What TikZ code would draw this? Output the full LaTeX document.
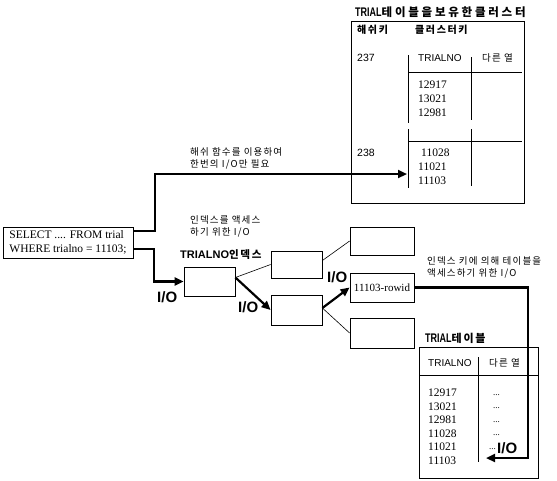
\documentclass[tikz,border=0pt]{standalone}
\usepackage{fontspec}
\usepackage{graphicx}
\usetikzlibrary{arrows.meta}
\setmainfont{Liberation Serif}
\newfontfamily\sansf{Liberation Sans}
\newfontfamily\krA[LetterSpace=12]{Noto Sans CJK KR}
\newfontfamily\krB[LetterSpace=24]{Noto Sans CJK KR}
\newfontfamily\krC[LetterSpace=16]{Noto Sans CJK KR}
\newcommand{\trialword}{\scalebox{0.72}[1]{\sansf\bfseries\fontsize{12.5}{12}\selectfont TRIAL}}
\tikzset{
  txt/.style={inner sep=0pt, anchor=west, align=left},
  krsmall/.style={txt, font=\krA\fontsize{9.5}{12}\selectfont},
  num/.style={txt, font=\fontsize{11.5}{13}\selectfont},
  sanslbl/.style={txt, font=\sansf\fontsize{10}{12}\selectfont},
  io/.style={txt, font=\sansf\bfseries\fontsize{15}{15}\selectfont},
  box/.style={draw, line width=0.8pt, inner sep=0pt},
  rule/.style={line width=0.8pt},
  thinline/.style={line width=0.6pt},
  thickarrow/.style={line width=2.2pt, -{Triangle[length=9pt,width=8pt]}},
}
\begin{document}
\begin{tikzpicture}[x=1pt,y=-1pt]
\useasboundingbox[fill=white] (0,0) rectangle (557,480);

% ---------------- cluster (top right) ----------------
\node[txt] (ctitle) at (355,12) {\trialword{\krB\bfseries\fontsize{11.5}{12}\selectfont 테이블을보유한클러스터}};
\node[box, minimum width=173pt, minimum height=182pt] (cluster) at (437.5,112) {};
\node[txt, font=\krC\bfseries\fontsize{10}{12}\selectfont] (hkey) at (357,30) {해쉬키};
\node[txt, font=\krC\bfseries\fontsize{10}{12}\selectfont] (ckey) at (415,30) {클러스터키};
\node[sanslbl, font=\sansf\fontsize{10.5}{12}\selectfont] (k237) at (357,58) {237};
\node[sanslbl] (ctrialno) at (418,58) {TRIALNO};
\node[krsmall] (cother) at (482,58) {다른 열};
\node[num] (c1a) at (418,85) {12917};
\node[num] (c1b) at (418,99) {13021};
\node[num] (c1c) at (418,113) {12981};
\node[sanslbl, font=\sansf\fontsize{10.5}{12}\selectfont] (k238) at (357,153) {238};
\node[num] (c2a) at (421,153) {11028};
\node[num] (c2b) at (418,167) {11021};
\node[num] (c2c) at (418,181) {11103};
\draw[rule] (408,55) -- (408,123);
\draw[rule] (408,129) -- (408,188);
\draw[rule] (471,57) -- (471,120);
\draw[rule] (471,129) -- (471,186);
\draw[rule] (408,72) -- (522,72);
\draw[rule] (408,141) -- (522,141);

% ---------------- SQL box ----------------
\node[box, minimum width=130pt, minimum height=31pt, align=left,
      font=\fontsize{11.5}{14}\selectfont] (sql) at (68,242.5)
      {SELECT .... FROM trial\\WHERE trialno = 11103;};

% ---------------- labels ----------------
\node[krsmall] (hashlbl) at (190,158) {해쉬 함수를 이용하여\\한번의 I/O만 필요};
\node[krsmall] (idxlbl) at (190,226) {인덱스를 액세스\\하기 위한 I/O};
\node[krsmall] (tbllbl) at (427,267) {인덱스 키에 의해 테이블을\\액세스하기 위한 I/O};

% ---------------- index tree ----------------
\node[txt] (idxtitle) at (180,255) {{\sansf\bfseries\fontsize{11}{12}\selectfont TRIALNO}{\krC\bfseries\fontsize{10.5}{12}\selectfont 인덱스}};
\node[box, minimum width=51pt, minimum height=29pt] (root) at (209.5,281.5) {};
\node[box, minimum width=51pt, minimum height=27pt] (c1) at (296.5,264.5) {};
\node[box, minimum width=51pt, minimum height=30pt] (c2) at (296.5,310) {};
\node[box, minimum width=64pt, minimum height=28pt] (leaf1) at (382,241) {};
\node[box, minimum width=64pt, minimum height=29pt, font=\fontsize{11}{12}\selectfont] (leaf2) at (382,287.5) {11103-rowid};
\node[box, minimum width=64pt, minimum height=30pt] (leaf3) at (382,333) {};

\node[io] (io1) at (157,297) {I/O};
\node[io] (io2) at (238,307) {I/O};
\node[io] (io3) at (327,277) {I/O};

% ---------------- TRIAL table ----------------
\node[txt] (ttitle) at (425,338) {\trialword{\krC\bfseries\fontsize{11}{12}\selectfont 테이블}};
\node[box, minimum width=119pt, minimum height=131pt] (table) at (478.5,412.5) {};
\node[sanslbl] (ttrialno) at (428,363) {TRIALNO};
\node[krsmall] (tother) at (489,363) {다른 열};
\draw[rule] (478,357) -- (478,462);
\draw[rule] (419,375) -- (538,375);
\node[num] (t1) at (428,393) {12917};
\node[num] (t2) at (428,406.5) {13021};
\node[num] (t3) at (428,420) {12981};
\node[num] (t4) at (428,433.5) {11028};
\node[num] (t5) at (428,447) {11021};
\node[num] (t6) at (428,460.5) {11103};
\node[num, font=\fontsize{9}{10}\selectfont] (d1) at (493,395) {...};
\node[num, font=\fontsize{9}{10}\selectfont] (d2) at (493,408.5) {...};
\node[num, font=\fontsize{9}{10}\selectfont] (d3) at (493,422) {...};
\node[num, font=\fontsize{9}{10}\selectfont] (d4) at (493,435.5) {...};
\node[num, font=\fontsize{9}{10}\selectfont] (d5) at (489,449) {...};
\node[io] (io4) at (497,448) {I/O};

% ---------------- connectors ----------------
\coordinate (hturn) at (155,174);
\coordinate (htip) at (407,174);
\draw[thickarrow] ([yshift=11.5pt]sql.east) -| (hturn) -- (htip);
\coordinate (iturn) at (154,281.5);
\draw[thickarrow] ([yshift=-6.5pt]sql.east) -| (iturn) -- (root.west);
\draw[thinline] ([yshift=4pt]root.east) -- (c1.west);
\draw[thickarrow] ([yshift=4pt]root.east) -- (c2.west);
\draw[thinline] ([yshift=4pt]c1.east) -- (leaf1.west);
\draw[thickarrow] ([yshift=2pt]c2.east) -- (leaf2.west);
\draw[thinline] ([yshift=2pt]c2.east) -- (leaf3.west);
\coordinate (tcorner) at (528,458);
\coordinate (ttip) at (486,458);
\draw[thickarrow] (leaf2.east) -| (tcorner) -- (ttip);
\end{tikzpicture}
\end{document}
